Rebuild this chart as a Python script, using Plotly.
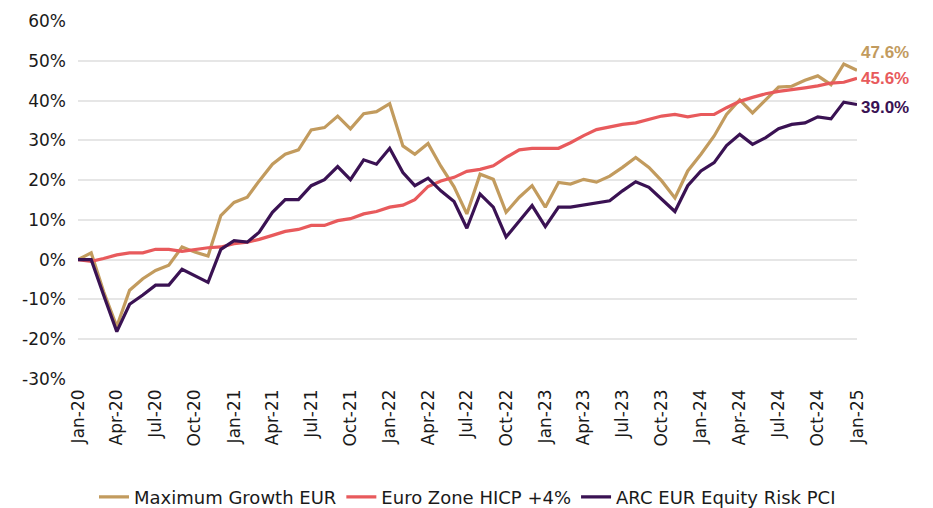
import pandas as pd
import plotly.graph_objects as go

dates = pd.date_range("2020-01-01", "2025-01-01", freq="MS")

max_growth = [0, 1.7, -8, -16.8, -7.7, -4.8, -2.7, -1.4, 3.2, 1.9, 0.9,
              11.1, 14.4, 15.7, 19.8, 24, 26.5, 27.6, 32.6, 33.2,
              36.1, 32.9, 36.7, 37.2, 39.2, 28.6, 26.5, 29.2, 23.5, 18.3,
              11.5, 21.5, 20.2, 11.9, 15.7, 18.6, 13.2, 19.4, 19, 20.2,
              19.5, 21, 23.2, 25.7, 23.2, 19.8, 15.5, 22.3, 26.5, 31.1,
              36.5, 40.2, 36.9, 40.2, 43.4, 43.6, 45.1, 46.2, 44, 49.2, 47.6]

hicp = [0, -0.4, 0.3, 1.2, 1.7, 1.7, 2.6, 2.6, 2.1, 2.6, 3.0,
        3.2, 4, 4.4, 5.1, 6.1, 7.1, 7.6, 8.6, 8.6,
        9.8, 10.3, 11.5, 12.1, 13.2, 13.7, 15.1, 18.4, 19.8, 20.7,
        22.2, 22.7, 23.6, 25.7, 27.6, 28, 28, 28, 29.4, 31.2,
        32.7, 33.4, 34, 34.4, 35.2, 36.1, 36.5, 35.9, 36.5, 36.5,
        38.2, 39.8, 40.8, 41.7, 42.3, 42.7, 43.2, 43.7, 44.4, 44.6, 45.6]

arc_pci = [0, 0, -8.9, -18.1, -11.2, -8.9, -6.4, -6.4, -2.4, -4.1, -5.7,
           2.6, 4.8, 4.4, 6.9, 11.9, 15.1, 15.1, 18.6, 20.1,
           23.4, 20.1, 25.1, 24, 28, 21.9, 18.6, 20.5, 17.3, 14.6,
           7.9, 16.5, 13.2, 5.7, 9.8, 13.6, 8.3, 13.2, 13.2, 13.7,
           14.3, 14.8, 17.3, 19.6, 18.2, 15.2, 12.1, 18.6, 22.3, 24.4,
           28.7, 31.5, 29, 30.7, 32.9, 34, 34.4, 35.9, 35.4, 39.6, 39.0]

series_names = ["Maximum Growth EUR", "Euro Zone HICP +4%", "ARC EUR Equity Risk PCI"]
series_values = [max_growth, hicp, arc_pci]
colors = ["#C29B5E", "#E85A5C", "#3A1253"]
label_shift = [18, 0, -3]

y_ticks = list(range(-30, 61, 10))
y_tick_labels = [f"{v}%" for v in y_ticks]
x_ticks = pd.date_range("2020-01-01", "2025-01-01", freq="3MS")
x_tick_labels = [d.strftime("%b-%y") for d in x_ticks]

TICK_FONT = dict(family="DejaVu Sans", size=17, color="#1a1a1a")

fig = go.Figure()
for name, vals, col in zip(series_names, series_values, colors):
    fig.add_trace(go.Scatter(x=dates, y=vals, name=name, mode="lines",
                             line=dict(color=col, width=3.2)))

for vals, col, sh in zip(series_values, colors, label_shift):
    fig.add_annotation(x=dates[-1], y=vals[-1], text=f"{vals[-1]:.1f}%",
                       showarrow=False, xanchor="left", yanchor="middle",
                       xshift=2, yshift=sh,
                       font=dict(family="Liberation Sans", size=17, color=col, weight="bold"))

fig.update_layout(
    width=933, height=508,
    margin=dict(l=78, r=76, t=21, b=129, autoexpand=False),
    plot_bgcolor="white", paper_bgcolor="white",
    font=TICK_FONT,
    showlegend=True,
    legend=dict(orientation="h", x=0.5, xanchor="center", y=-0.33, yanchor="middle",
                font=dict(family="DejaVu Sans", size=18, color="#1a1a1a"),
                itemwidth=30, traceorder="normal", entrywidthmode="pixels"),
)
fig.update_xaxes(range=[dates[0], dates[-1]], tickvals=list(x_ticks), ticktext=x_tick_labels,
                 tickangle=-90, showgrid=False, showline=False, ticks="", automargin=False,
                 ticklabelstandoff=6, tickfont=TICK_FONT)
fig.update_yaxes(range=[-30, 60], tickvals=y_ticks, ticktext=y_tick_labels,
                 showgrid=True, gridcolor="#E6E6E6", gridwidth=1.5, zeroline=False,
                 showline=False, ticks="", ticklabelstandoff=11, automargin=False,
                 tickfont=TICK_FONT)

fig.write_html("out.html", config={"displayModeBar": False},
               post_script="document.body.style.margin='0';document.body.style.overflow='hidden';")
